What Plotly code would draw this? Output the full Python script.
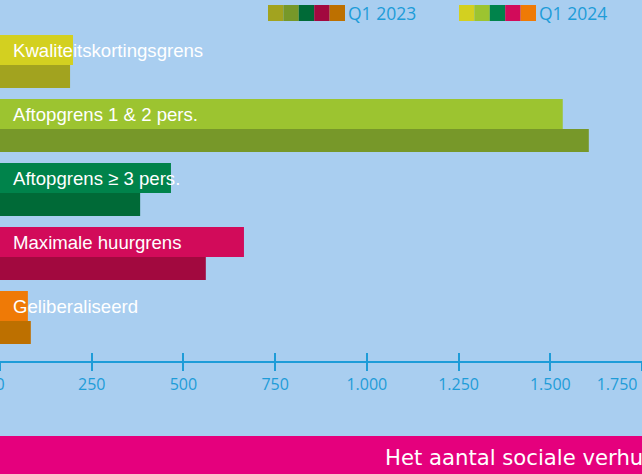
import plotly.graph_objects as go

# categories, top to bottom
categories = ['Kwaliteitskortingsgrens', 'Aftopgrens 1 & 2 pers.', 'Aftopgrens ≥ 3 pers.',
              'Maximale huurgrens', 'Geliberaliseerd']
values_2024 = [199, 1534, 466, 665, 76]
values_2023 = [191, 1605, 382, 561, 84]

colors_2024 = ['#D3D020', '#9CC430', '#00834B', '#D20B5A', '#EF7A06']
colors_2023 = ['#A2A31F', '#779829', '#006A37', '#A2093F', '#BD7000']

tick_vals = [0, 250, 500, 750, 1000, 1250, 1500, 1750]
tick_text = ['0', '250', '500', '750', '1.000', '1.250', '1.500', '1.750']
# last label is pulled inside the chart, as in the original
tick_text[-1] = tick_text[-1] + '\u00a0' * 12

bg = '#A9CEF0'
blue = '#1E9CD8'
W, H = 642, 474
plot_bottom = 361  # px from top

fig = go.Figure()
fig.add_trace(go.Bar(y=categories, x=values_2024, orientation='h', marker_color=colors_2024,
                     marker_line_width=0, width=0.469, offset=-0.469, name='Q1 2024',
                     hoverinfo='x+y'))
fig.add_trace(go.Bar(y=categories, x=values_2023, orientation='h', marker_color=colors_2023,
                     marker_line_width=0, width=0.359, offset=0, name='Q1 2023',
                     hoverinfo='x+y'))
# empty trace so the second (tick-only) x axis gets drawn
fig.add_trace(go.Scatter(x=[None], y=[None], xaxis='x2', yaxis='y', hoverinfo='skip'))

# category labels inside the top bar
for cat in categories:
    fig.add_annotation(x=0, y=cat, xref='x', yref='y', text=cat, showarrow=False,
                       xanchor='left', yanchor='middle', xshift=11, yshift=15,
                       font=dict(family='Liberation Sans, Arial', size=18.6, color='white'))

# legend swatches + labels
def px_x(p):
    return p / W

def px_y(p):
    return (plot_bottom - p) / plot_bottom

for start, cols, label in [(268, colors_2023, 'Q1 2023'), (459, colors_2024, 'Q1 2024')]:
    sw = 77 / len(cols)
    for i, c in enumerate(cols):
        fig.add_shape(type='rect', xref='paper', yref='paper',
                      x0=px_x(start + i * sw), x1=px_x(start + (i + 1) * sw),
                      y0=px_y(21), y1=px_y(5), fillcolor=c, line_width=0)
    fig.add_annotation(x=px_x(start + 78), y=px_y(13), xref='paper', yref='paper',
                       text=label, showarrow=False, xanchor='left', yanchor='middle',
                       font=dict(family='Open Sans', size=17.5, color=blue))

# bottom banner
fig.add_shape(type='rect', xref='paper', yref='paper', x0=-0.01, x1=1.01,
              y0=px_y(480), y1=px_y(436), fillcolor='#E5007D', line_width=0)
fig.add_annotation(x=px_x(383), y=px_y(458), xref='paper', yref='paper',
                   text='Het aantal sociale verhuurwoningen', showarrow=False,
                   xanchor='left', yanchor='middle',
                   font=dict(family='DejaVu Sans', size=21.2, color='white'))

axis_common = dict(range=[0, 1750], tickvals=tick_vals, showgrid=False, zeroline=False,
                   fixedrange=True, automargin=False)

fig.update_layout(
    width=W, height=H,
    margin=dict(l=0, r=0, t=0, b=H - plot_bottom, autoexpand=False),
    paper_bgcolor=bg, plot_bgcolor=bg,
    barmode='overlay', showlegend=False,
    xaxis=dict(**axis_common, ticktext=tick_text, showline=True, linecolor=blue, linewidth=2,
               ticks='outside', ticklen=8, tickwidth=1.5, tickcolor=blue,
               ticklabeloverflow='allow',
               tickfont=dict(family='Open Sans', size=16, color=blue)),
    xaxis2=dict(**axis_common, overlaying='x', anchor='y', side='bottom',
                ticks='inside', ticklen=8, tickwidth=1.5, tickcolor=blue,
                showticklabels=False, showline=False),
    yaxis=dict(type='category', categoryorder='array', categoryarray=categories,
               range=[4.625, -1.0156], visible=False, fixedrange=True),
)

fig.write_html("out.html", config={'displayModeBar': False},
               post_script="document.body.style.margin='0';")
